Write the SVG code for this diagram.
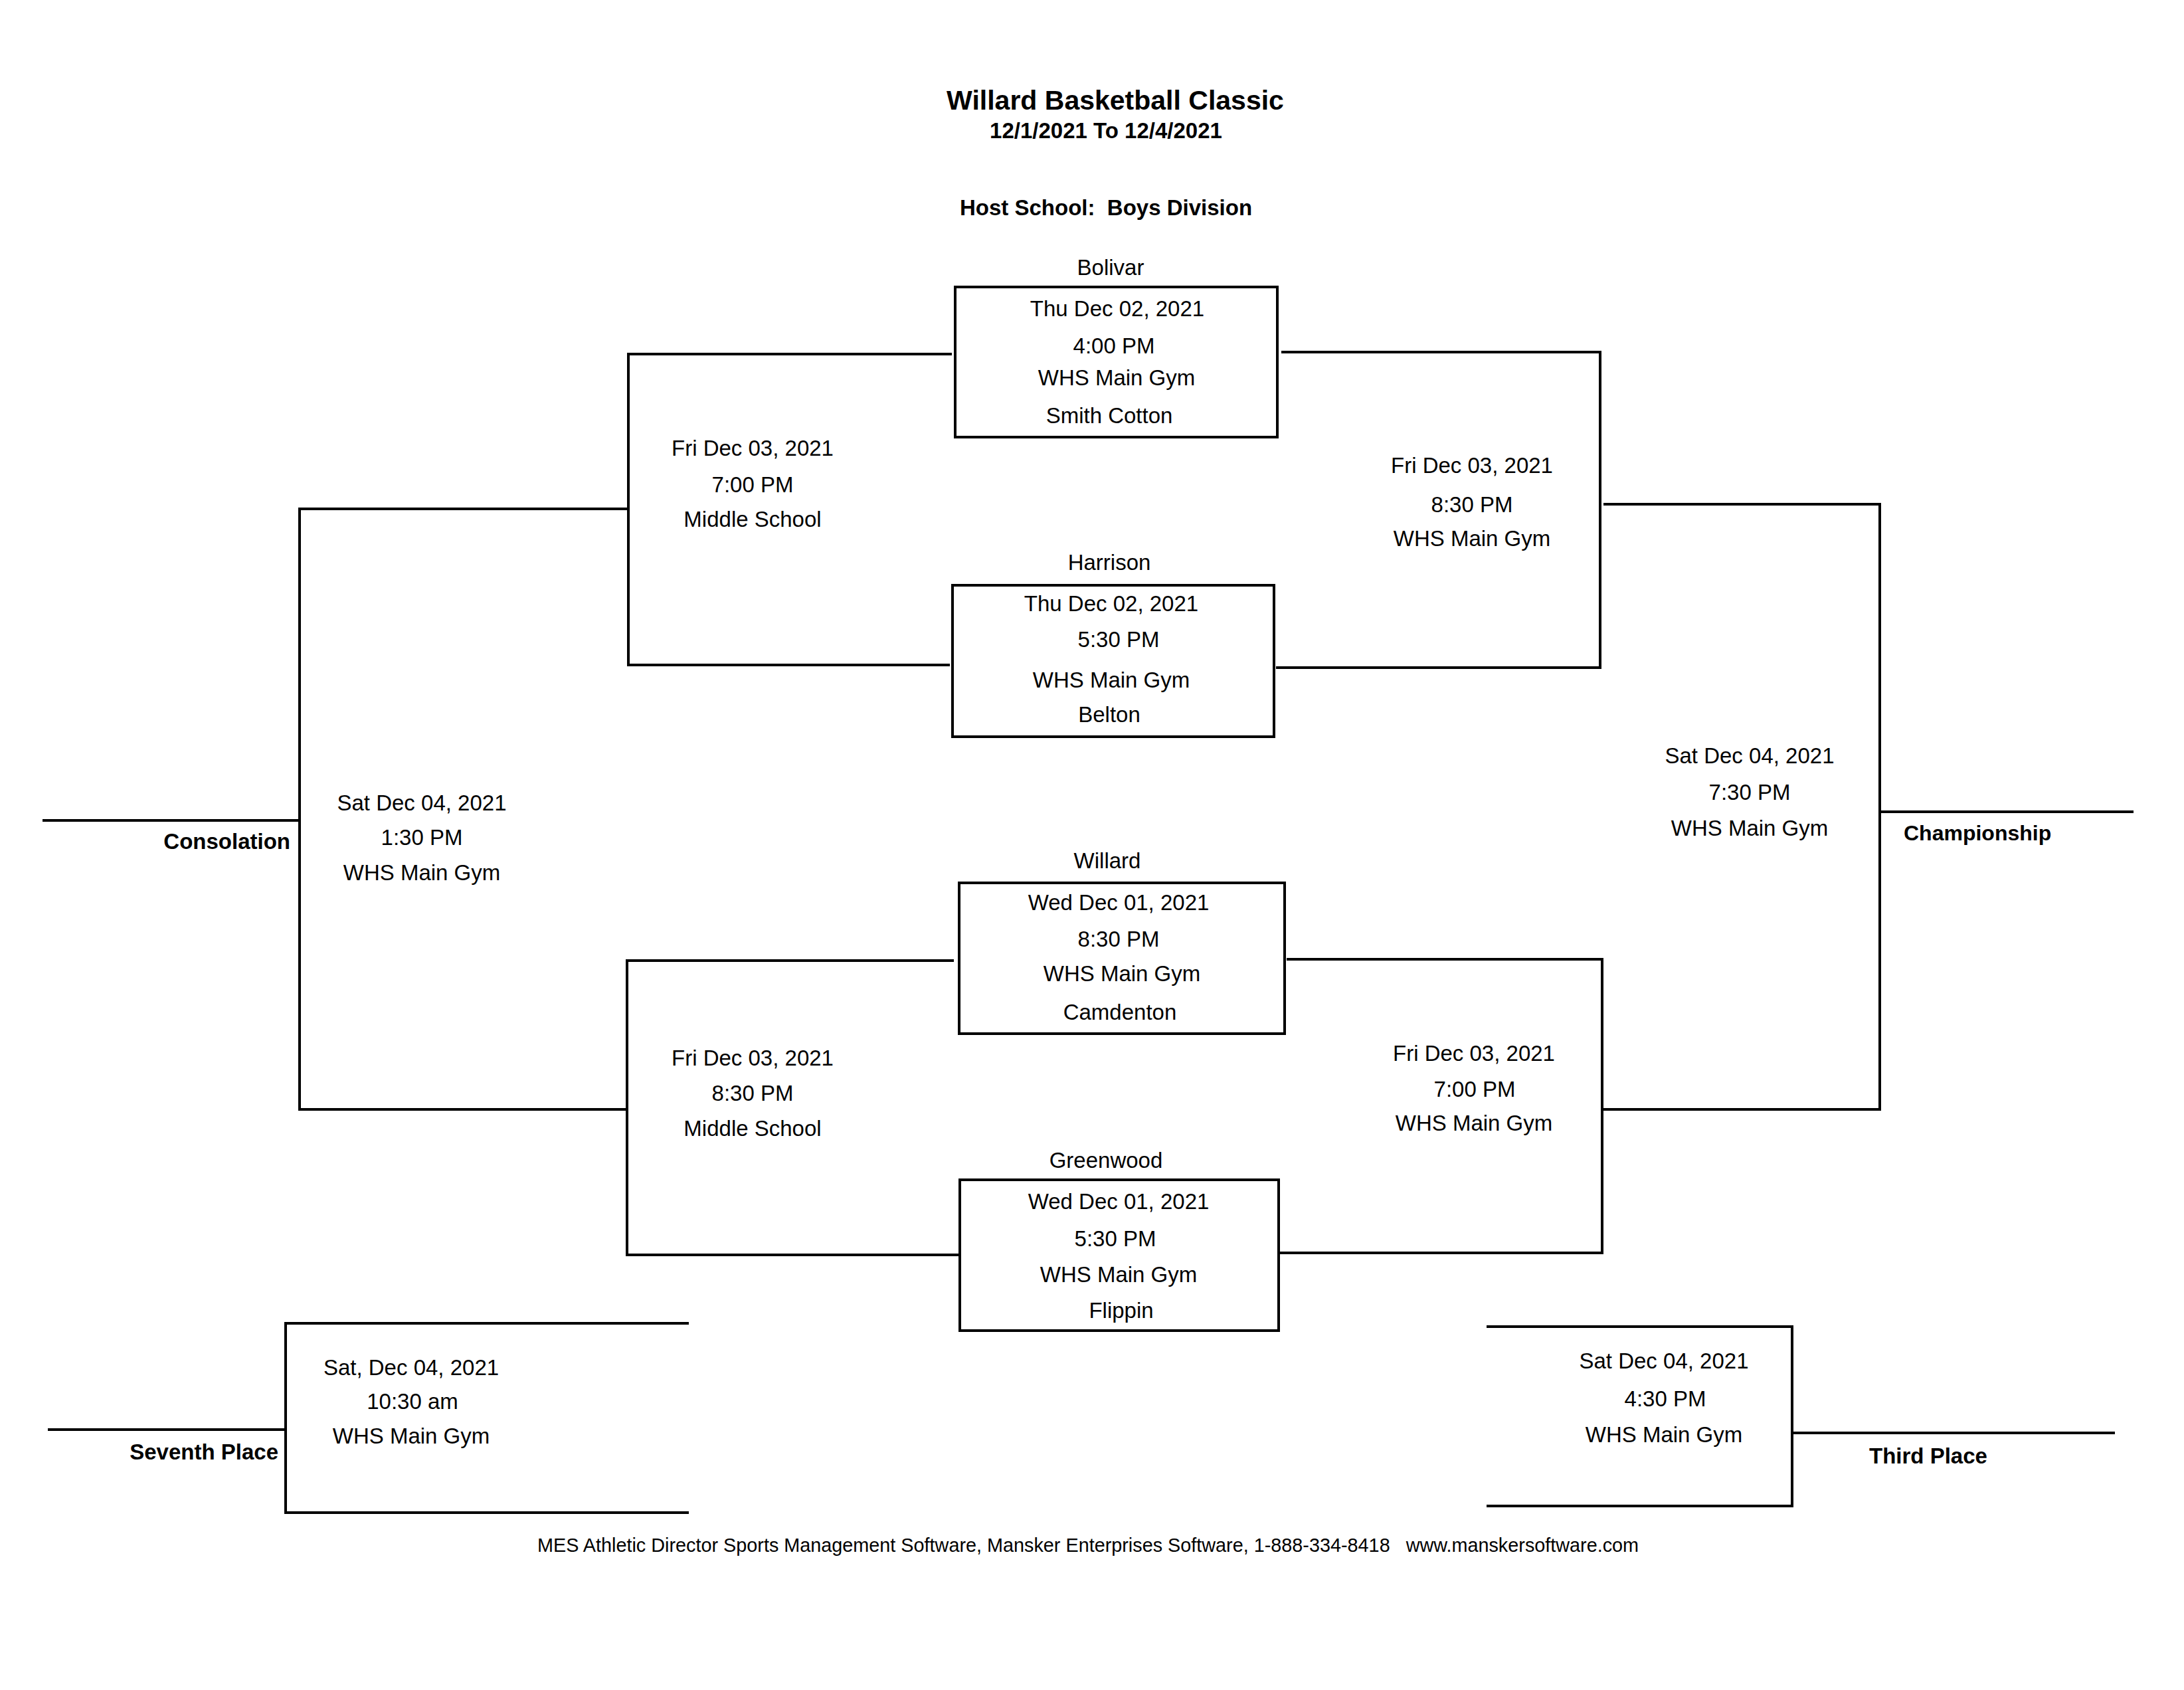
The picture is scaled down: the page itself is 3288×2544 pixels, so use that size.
<svg xmlns="http://www.w3.org/2000/svg" width="3288" height="2544" viewBox="0 0 3288 2544">
<style>
text{font-family:"Liberation Sans",Arial,sans-serif;fill:#000;font-size:33px;text-anchor:middle}
.b{font-weight:bold}
.s{text-anchor:start}
.e{text-anchor:end}
.ln{fill:none;stroke:#000;stroke-width:4;stroke-linecap:square}
.box{fill:none;stroke:#000;stroke-width:4}
</style>
<rect width="3288" height="2544" fill="#fff"/>
<g id="header">
<text class="b" x="1679" y="165" style="font-size:41px">Willard Basketball Classic</text>
<text class="b" x="1665" y="208">12/1/2021 To 12/4/2021</text>
<text class="b s" x="1445" y="324" xml:space="preserve">Host School:  Boys Division</text>
</g>
<g id="connectors">
<path class="ln" d="M1431,533 H946 V1001 H1428"/>
<path class="ln" d="M1931,530 H2409 V1005 H1923"/>
<path class="ln" d="M1434,1446 H944 V1889 H1444"/>
<path class="ln" d="M1939,1444 H2412 V1886 H1926"/>
<path class="ln" d="M942,766 H451 V1670 H943"/>
<path class="ln" d="M66,1235 H449"/>
<path class="ln" d="M2416,759 H2830 V1670 H2416"/>
<path class="ln" d="M2830,1222 H3210"/>
<path class="ln" d="M1035,1992 H430 V2277 H1035"/>
<path class="ln" d="M74,2152 H430"/>
<path class="ln" d="M2240,1997 H2698 V2267 H2240"/>
<path class="ln" d="M2698,2157 H3182"/>
</g>
<g id="game-bolivar-smithcotton">
<rect class="box" x="1438" y="432" width="485" height="226"/>
<text x="1672" y="414">Bolivar</text>
<text x="1682" y="476">Thu Dec 02, 2021</text>
<text x="1677" y="532">4:00 PM</text>
<text x="1681" y="580">WHS Main Gym</text>
<text x="1670" y="637">Smith Cotton</text>
</g>
<g id="game-harrison-belton">
<rect class="box" x="1434" y="881" width="484" height="228"/>
<text x="1670" y="858">Harrison</text>
<text x="1673" y="920">Thu Dec 02, 2021</text>
<text x="1684" y="974">5:30 PM</text>
<text x="1673" y="1035">WHS Main Gym</text>
<text x="1670" y="1087">Belton</text>
</g>
<g id="game-willard-camdenton">
<rect class="box" x="1444" y="1329" width="490" height="227"/>
<text x="1667" y="1307">Willard</text>
<text x="1684" y="1370">Wed Dec 01, 2021</text>
<text x="1684" y="1425">8:30 PM</text>
<text x="1689" y="1477">WHS Main Gym</text>
<text x="1686" y="1535">Camdenton</text>
</g>
<g id="game-greenwood-flippin">
<rect class="box" x="1445" y="1776" width="480" height="227"/>
<text x="1665" y="1758">Greenwood</text>
<text x="1684" y="1820">Wed Dec 01, 2021</text>
<text x="1679" y="1876">5:30 PM</text>
<text x="1684" y="1930">WHS Main Gym</text>
<text x="1688" y="1984">Flippin</text>
</g>
<g id="semi-upper-left">
<text x="1133" y="686">Fri Dec 03, 2021</text>
<text x="1133" y="741">7:00 PM</text>
<text x="1133" y="793">Middle School</text>
</g>
<g id="semi-upper-right">
<text x="2216" y="712">Fri Dec 03, 2021</text>
<text x="2216" y="771">8:30 PM</text>
<text x="2216" y="822">WHS Main Gym</text>
</g>
<g id="semi-lower-left">
<text x="1133" y="1604">Fri Dec 03, 2021</text>
<text x="1133" y="1657">8:30 PM</text>
<text x="1133" y="1710">Middle School</text>
</g>
<g id="semi-lower-right">
<text x="2219" y="1597">Fri Dec 03, 2021</text>
<text x="2220" y="1651">7:00 PM</text>
<text x="2219" y="1702">WHS Main Gym</text>
</g>
<g id="consolation">
<text x="635" y="1220">Sat Dec 04, 2021</text>
<text x="635" y="1272">1:30 PM</text>
<text x="635" y="1325">WHS Main Gym</text>
<text class="b e" x="437" y="1278">Consolation</text>
</g>
<g id="championship">
<text x="2634" y="1149">Sat Dec 04, 2021</text>
<text x="2634" y="1204">7:30 PM</text>
<text x="2634" y="1258">WHS Main Gym</text>
<text class="b s" x="2866" y="1265" style="font-size:32px">Championship</text>
</g>
<g id="seventh-place">
<text x="619" y="2070">Sat, Dec 04, 2021</text>
<text x="621" y="2121">10:30 am</text>
<text x="619" y="2173">WHS Main Gym</text>
<text class="b e" x="419" y="2197">Seventh Place</text>
</g>
<g id="third-place">
<text x="2505" y="2060">Sat Dec 04, 2021</text>
<text x="2507" y="2117">4:30 PM</text>
<text x="2505" y="2171">WHS Main Gym</text>
<text class="b s" x="2814" y="2203">Third Place</text>
</g>
<g id="footer">
<text class="s" x="809" y="2336" style="font-size:28.8px" xml:space="preserve">MES Athletic Director Sports Management Software, Mansker Enterprises Software, 1-888-334-8418   www.manskersoftware.com</text>
</g>
</svg>
